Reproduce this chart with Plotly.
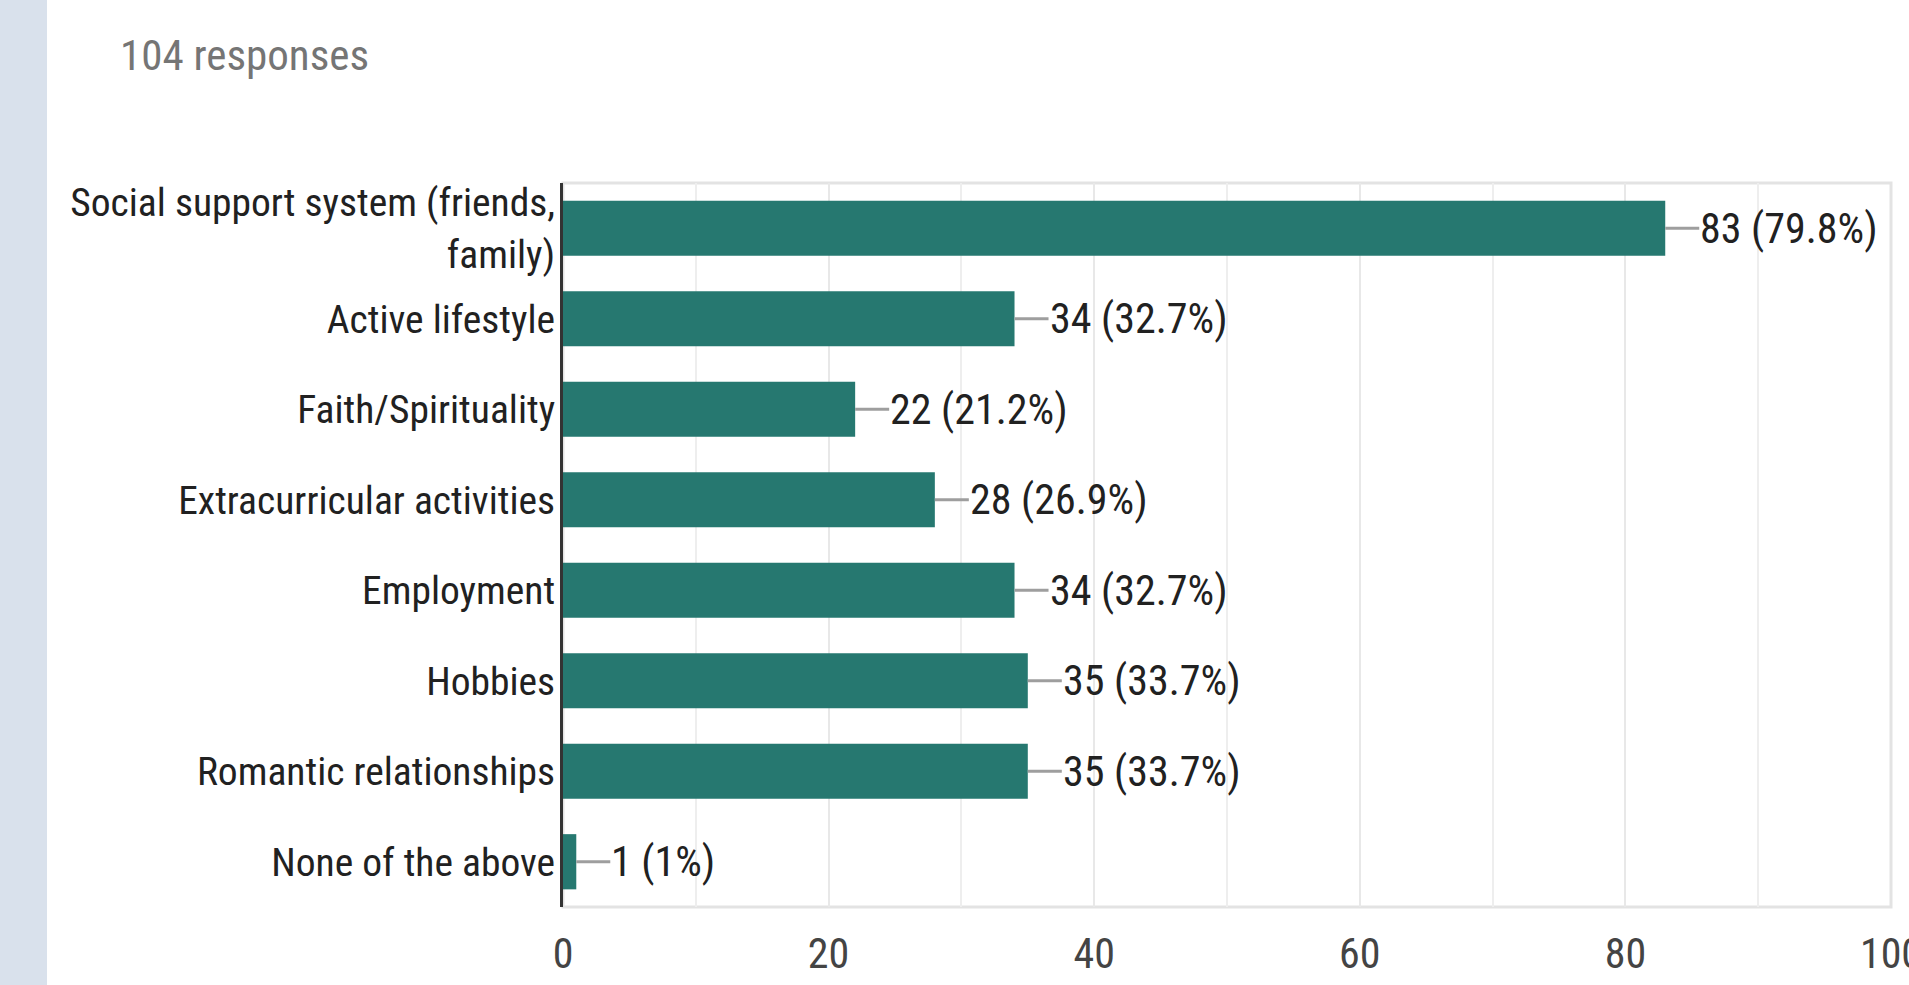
import plotly.graph_objects as go

categories = [
    "Social support system (friends,<br>family)",
    "Active lifestyle",
    "Faith/Spirituality",
    "Extracurricular activities",
    "Employment",
    "Hobbies",
    "Romantic relationships",
    "None of the above",
]
counts = [83, 34, 22, 28, 34, 35, 35, 1]
percents = ["79.8%", "32.7%", "21.2%", "26.9%", "32.7%", "33.7%", "33.7%", "1%"]
total_responses = 104
x_ticks = [0, 20, 40, 60, 80, 100]

W, H = 1909, 985
ML, MR, MT, MB = 563, 18, 183, 78
FONT = "Liberation Sans Narrow, Roboto Condensed, Arial Narrow, Liberation Sans, sans-serif"
BAR = "#267870"

fig = go.Figure(go.Bar(
    x=counts, y=categories, orientation="h",
    marker=dict(color=BAR, line=dict(width=0)),
    hoverinfo="skip",
))

for c, cat, p in zip(counts, categories, percents):
    fig.add_annotation(
        x=c, y=cat, xref="x", yref="y",
        text=f"{c} ({p})",
        showarrow=True, arrowhead=0, arrowwidth=3, arrowcolor="#9e9e9e",
        ax=34, ay=0, xanchor="left", standoff=0, startstandoff=0,
        borderpad=0,
        font=dict(family=FONT, size=42, color="#212121"),
    )

plot_w = W - ML - MR
plot_h = H - MT - MB
fig.add_shape(type="rect", xref="paper", yref="paper",
              x0=-ML / plot_w, x1=-(ML - 47) / plot_w, y0=-MB / plot_h,
              y1=1 + MT / plot_h,
              fillcolor="#d9e1ec", line=dict(width=0), layer="below")
fig.add_shape(type="rect", xref="paper", yref="paper", x0=0, x1=1, y0=0, y1=1,
              line=dict(color="#e3e3e3", width=3), fillcolor="rgba(0,0,0,0)", layer="below")

fig.add_annotation(
    x=-(ML - 118) / plot_w, y=1 + (MT - 55) / plot_h, xref="paper", yref="paper",
    text=f"{total_responses} responses", showarrow=False, xanchor="left", yanchor="middle",
    font=dict(family=FONT, size=43, color="#757575"),
)

fig.update_layout(
    width=W, height=H,
    margin=dict(l=ML, r=MR, t=MT, b=MB, pad=0, autoexpand=False),
    paper_bgcolor="white", plot_bgcolor="white",
    bargap=0.39,
    showlegend=False,
    font=dict(family=FONT, size=42, color="#212121"),
)
fig.update_xaxes(
    range=[0, 100], tickvals=x_ticks, ticktext=[str(v) for v in x_ticks],
    showgrid=True, gridcolor="#e8e8e8", gridwidth=2,
    minor=dict(dtick=10, showgrid=True, gridcolor="#eeeeee", gridwidth=2),
    zeroline=False, showline=False, ticks="",
    tickfont=dict(family=FONT, size=42, color="#444444"),
    ticklabelstandoff=18, ticklabeloverflow="allow",
    automargin=False,
    fixedrange=True,
)
fig.update_yaxes(
    categoryorder="array", categoryarray=categories[::-1],
    showgrid=False, zeroline=False,
    showline=True, linecolor="#333333", linewidth=3,
    ticks="", ticklabelstandoff=-3,
    tickfont=dict(family=FONT, size=39.5, color="#212121"),
    automargin=False,
    fixedrange=True,
)

fig.write_html("out.html", config={"displayModeBar": False})
